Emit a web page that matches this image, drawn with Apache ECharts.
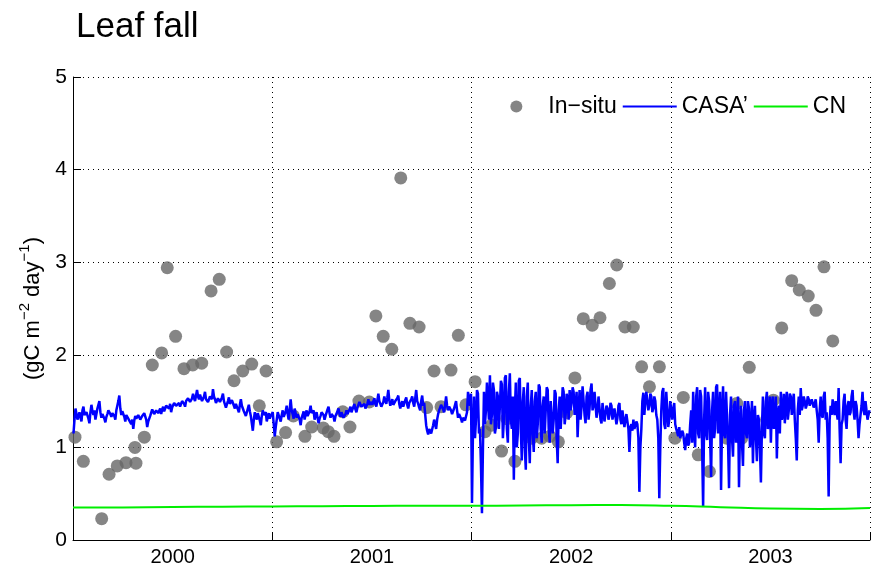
<!DOCTYPE html>
<html>
<head>
<meta charset="utf-8">
<title>Leaf fall</title>
<script src="https://cdn.jsdelivr.net/npm/echarts@6/dist/echarts.min.js"></script>
<style>
  html, body { margin: 0; padding: 0; background: #fff; }
  #chart { width: 874px; height: 570px; }
</style>
</head>
<body>
<div id="chart"></div>
<script>
// Year categories on the x axis
const years = ['2000', '2001', '2002', '2003'];
const yTicks = [0, 1, 2, 3, 4, 5];

// In-situ litterfall samples: time in years since 2000-01-01, value in gC m-2 day-1
const insituTime = [
  0.010, 0.052, 0.144, 0.181, 0.222, 0.266, 0.311, 0.316, 0.358, 0.398,
  0.445, 0.473, 0.515, 0.557, 0.601, 0.646, 0.693, 0.734, 0.771, 0.808,
  0.852, 0.897, 0.935, 0.969, 1.022, 1.067, 1.106, 1.164, 1.198, 1.256,
  1.281, 1.310, 1.354, 1.390, 1.435, 1.487, 1.520, 1.557, 1.600, 1.645,
  1.691, 1.737, 1.775, 1.812, 1.847, 1.897, 1.934, 1.972, 2.018, 2.068,
  2.101, 2.151, 2.177, 2.218, 2.302, 2.352, 2.394, 2.436, 2.478, 2.519,
  2.561, 2.606, 2.645, 2.692, 2.729, 2.770, 2.812, 2.854, 2.893, 2.943,
  3.021, 3.063, 3.138, 3.194, 3.281, 3.331, 3.356, 3.394, 3.481, 3.515,
  3.557, 3.607, 3.645, 3.690, 3.729, 3.769, 3.813
];
const insituValue = [
  1.11, 0.85, 0.23, 0.71, 0.80, 0.835, 1.00, 0.83, 1.11, 1.89,
  2.02, 2.94, 2.20, 1.85, 1.89, 1.91, 2.69, 2.815, 2.03, 1.72,
  1.825, 1.90, 1.45, 1.825, 1.06, 1.16, 1.34, 1.12, 1.22, 1.21,
  1.17, 1.12, 1.385, 1.22, 1.50, 1.49, 2.42, 2.20, 2.06, 3.91,
  2.34, 2.30, 1.43, 1.825, 1.44, 1.835, 2.21, 1.46, 1.71, 1.17,
  1.24, 0.96, 1.31, 0.85, 1.10, 1.10, 1.12, 1.06, 1.375, 1.75,
  2.39, 2.32, 2.40, 2.77, 2.97, 2.30, 2.30, 1.87, 1.655, 1.87,
  1.10, 1.54, 0.92, 0.74, 1.10, 1.475, 1.10, 1.865, 1.30, 1.51,
  2.29, 2.80, 2.70, 2.635, 2.48, 2.95, 2.15
];

// CASA' modelled leaf fall, 200 samples per year
const casa2000 = [
  1.15,1.30, 1.42,1.36, 1.30,1.34, 1.38,1.32, 1.28,1.40, 1.44,1.35, 1.33,1.38, 1.40,1.31, 1.26,1.38, 1.46,1.39,
  1.35,1.40, 1.30,1.36, 1.42,1.46, 1.50,1.38, 1.32,1.36, 1.38,1.31, 1.27,1.33, 1.36,1.40, 1.41,1.36, 1.33,1.37,
  1.38,1.34, 1.30,1.40, 1.45,1.50, 1.56,1.42, 1.35,1.39, 1.40,1.33, 1.28,1.35, 1.37,1.31, 1.33,1.29, 1.25,1.30,
  1.20,1.29, 1.34,1.31, 1.30,1.35, 1.36,1.30, 1.28,1.34, 1.32,1.37, 1.38,1.30, 1.22,1.28, 1.30,1.34, 1.36,1.41,
  1.40,1.36, 1.35,1.40, 1.42,1.37, 1.38,1.42, 1.36,1.41, 1.44,1.39, 1.40,1.45, 1.47,1.43, 1.42,1.47, 1.38,1.43,
  1.45,1.48, 1.50,1.45, 1.43,1.47, 1.48,1.44, 1.46,1.50, 1.52,1.47, 1.44,1.50, 1.49,1.53, 1.54,1.49, 1.47,1.53,
  1.58,1.53, 1.50,1.56, 1.62,1.55, 1.52,1.57, 1.56,1.50, 1.48,1.55, 1.60,1.52, 1.54,1.49, 1.50,1.55, 1.57,1.52,
  1.63,1.55, 1.52,1.48, 1.46,1.53, 1.55,1.49, 1.50,1.54, 1.58,1.50, 1.48,1.43, 1.44,1.50, 1.54,1.47, 1.46,1.51,
  1.50,1.45, 1.42,1.47, 1.48,1.41, 1.38,1.46, 1.52,1.45, 1.44,1.39, 1.40,1.34, 1.36,1.42, 1.46,1.39, 1.34,1.26,
  1.18,1.30, 1.38,1.33, 1.30,1.37, 1.36,1.29, 1.24,1.34, 1.40,1.35, 1.33,1.38, 1.28,1.33, 1.37,1.31, 1.34,1.36
];
const casa2001 = [
  1.38,1.25, 1.12,1.22, 1.30,1.38, 1.36,1.31, 1.28,1.35, 1.40,1.33, 1.34,1.39, 1.45,1.36, 1.30,1.41, 1.52,1.40,
  1.36,1.31, 1.42,1.37, 1.32,1.36, 1.38,1.30, 1.24,1.32, 1.35,1.39, 1.30,1.36, 1.40,1.34, 1.33,1.39, 1.45,1.37,
  1.36,1.40, 1.30,1.35, 1.38,1.32, 1.26,1.31, 1.34,1.38, 1.40,1.35, 1.30,1.34, 1.36,1.41, 1.44,1.37, 1.32,1.36,
  1.38,1.33, 1.28,1.34, 1.35,1.39, 1.42,1.36, 1.33,1.38, 1.37,1.32, 1.30,1.36, 1.40,1.36, 1.35,1.41, 1.44,1.38,
  1.40,1.44, 1.47,1.41, 1.38,1.43, 1.44,1.49, 1.50,1.44, 1.42,1.46, 1.47,1.42, 1.40,1.47, 1.52,1.46, 1.44,1.49,
  1.46,1.50, 1.53,1.47, 1.44,1.51, 1.58,1.50, 1.48,1.44, 1.42,1.49, 1.55,1.50, 1.47,1.54, 1.62,1.51, 1.45,1.49,
  1.52,1.46, 1.44,1.50, 1.48,1.53, 1.56,1.47, 1.42,1.47, 1.50,1.44, 1.46,1.51, 1.54,1.46, 1.42,1.48, 1.47,1.52,
  1.55,1.48, 1.44,1.53, 1.62,1.50, 1.47,1.43, 1.40,1.50, 1.56,1.45, 1.48,1.36, 1.24,1.18, 1.14,1.20, 1.22,1.15,
  1.16,1.24, 1.30,1.25, 1.20,1.30, 1.36,1.40, 1.42,1.46, 1.48,1.41, 1.38,1.46, 1.55,1.45, 1.40,1.44, 1.46,1.40,
  1.36,1.39, 1.42,1.46, 1.50,1.40, 1.32,1.36, 1.38,1.31, 1.27,1.32, 1.34,1.29, 1.30,1.38, 1.60,1.50, 1.45,1.58
];
const casa2002 = [
  0.40,1.20, 1.55,1.10, 1.30,1.62, 1.58,1.15, 1.20,0.80, 0.29,1.00, 1.60,1.25, 1.40,1.70, 1.72,1.30, 1.78,1.25,
  1.35,1.70, 1.62,1.15, 1.22,1.60, 1.55,1.20, 1.45,1.72, 1.68,1.10, 1.30,1.75, 1.78,1.20, 1.05,1.60, 1.80,1.30,
  1.20,1.55, 0.65,1.40, 1.70,1.00, 1.15,1.72, 1.75,1.20, 0.86,1.50, 1.65,1.00, 0.76,1.55, 1.70,1.10, 0.83,1.45,
  1.62,1.15, 0.95,1.50, 1.60,1.10, 1.25,1.68, 1.65,1.20, 1.05,1.45, 1.55,1.15, 1.40,1.65, 1.62,1.20, 1.05,1.50,
  1.50,1.15, 1.30,1.62, 1.58,1.10, 0.83,1.40, 1.55,1.20, 1.40,1.65, 1.60,1.25, 1.35,1.58, 1.52,1.30, 1.62,1.40,
  1.48,1.65, 1.60,1.35, 1.45,1.60, 1.11,1.40, 1.62,1.30, 1.45,1.66, 1.68,1.35, 1.26,1.55, 1.60,1.30, 1.42,1.62,
  1.69,1.40, 1.45,1.60, 1.58,1.32, 1.40,1.55, 1.55,1.30, 1.26,1.48, 1.50,1.28, 1.30,1.45, 1.42,1.30, 1.35,1.48,
  1.45,1.30, 1.28,1.42, 1.40,1.25, 1.32,1.45, 1.48,1.30, 1.25,1.40, 1.38,1.22, 1.30,1.36, 1.34,1.20, 0.95,1.22,
  1.25,1.18, 1.30,1.20, 1.22,1.28, 1.25,1.10, 0.52,1.00, 1.20,1.50, 1.59,1.35, 1.50,1.60, 1.58,1.40, 1.45,1.58,
  1.55,1.38, 1.42,1.55, 1.50,1.35, 1.30,1.10, 0.45,1.00, 1.40,1.60, 1.64,1.25, 1.20,1.60, 1.58,1.22, 1.30,1.50
];
const casa2003 = [
  1.50,1.30, 1.42,1.48, 1.25,1.20, 1.18,1.12, 1.22,1.10, 1.12,1.18, 1.15,1.05, 0.97,1.10, 1.15,1.02, 1.05,1.25,
  1.40,1.05, 1.60,1.20, 1.00,1.55, 1.65,1.15, 1.10,1.62, 1.55,1.00, 0.36,1.30, 1.65,1.15, 1.08,1.60, 1.50,1.10,
  0.68,1.40, 1.60,1.10, 1.20,1.65, 1.68,1.15, 1.30,1.60, 0.54,1.30, 1.66,1.15, 1.10,1.60, 1.62,1.05, 0.56,1.35,
  1.55,1.10, 0.90,1.45, 1.50,1.05, 1.20,1.55, 0.57,1.20, 1.45,1.05, 0.80,1.40, 1.50,1.15, 1.10,1.50, 1.42,1.00,
  1.20,1.50, 0.83,1.30, 1.45,1.10, 0.85,1.35, 1.30,1.00, 0.62,1.20, 1.55,1.15, 1.10,1.50, 1.60,1.20, 1.25,1.55,
  1.05,1.45, 1.55,1.20, 1.30,1.55, 0.88,1.35, 1.45,1.15, 1.60,1.30, 1.35,1.58, 1.26,1.50, 1.60,1.30, 1.40,1.58,
  1.55,1.35, 1.48,1.58, 1.30,1.10, 0.86,1.40, 1.55,1.35, 1.64,1.40, 1.45,1.55, 1.50,1.42, 1.46,1.55, 1.52,1.45,
  1.44,1.52, 1.50,1.43, 1.47,1.52, 1.40,1.30, 1.05,1.40, 1.55,1.35, 1.32,1.55, 1.60,1.30, 1.38,1.10, 0.47,1.30,
  1.45,1.35, 1.52,1.40, 1.35,1.50, 1.50,1.30, 1.64,1.20, 0.83,1.25, 1.30,1.50, 1.58,1.30, 1.20,1.45, 1.50,1.35,
  1.38,1.55, 1.62,1.40, 1.30,1.50, 1.45,1.30, 1.10,1.25, 1.25,1.45, 1.60,1.40, 1.35,1.50, 1.48,1.30, 1.32,1.40
];

// CN modelled leaf fall, quarterly from 2000.0 to 2004.0
const cnTime = [0, 0.25, 0.5, 0.75, 1, 1.25, 1.5, 1.75, 2, 2.25, 2.5, 2.75, 3, 3.25, 3.5, 3.75, 4];
const cnValue = [0.350, 0.352, 0.356, 0.360, 0.362, 0.365, 0.368, 0.370, 0.370, 0.372, 0.376, 0.378, 0.370, 0.355, 0.340, 0.335, 0.345];

const FONT = '"Liberation Sans", Arial, Helvetica, sans-serif';

const casaYears = [casa2000, casa2001, casa2002, casa2003];
const casaData = [];
casaYears.forEach((arr, y) => {
  arr.forEach((v, i) => casaData.push([y + (i + 0.5) / arr.length, v]));
});
const insituData = insituTime.map((t, i) => [t, insituValue[i]]);
const cnData = cnTime.map((t, i) => [t, cnValue[i]]);

const dotted = { color: '#000', width: 1, type: [1, 4] };
const lineIcon = 'path://M0,0 L54,0 L54,2 L0,2 Z';

const chart = echarts.init(document.getElementById('chart'), null, { renderer: 'canvas' });
chart.setOption({
  animation: false,
  backgroundColor: '#fff',
  title: {
    text: 'Leaf fall',
    left: 76,
    top: 10,
    padding: 0,
    textStyle: { fontFamily: FONT, fontSize: 35, fontWeight: 'normal', color: '#000' }
  },
  legend: {
    right: 23,
    top: 90,
    itemWidth: 54,
    itemHeight: 12,
    itemGap: 6,
    symbolKeepAspect: true,
    textStyle: { fontFamily: FONT, fontSize: 23, color: '#000' },
    data: [
      { name: 'In−situ', icon: 'circle' },
      { name: 'CASA’', icon: lineIcon },
      { name: 'CN', icon: lineIcon }
    ]
  },
  grid: { left: 73, right: 4, top: 77, bottom: 30, containLabel: false },
  xAxis: [
    {
      type: 'category',
      data: years,
      boundaryGap: true,
      axisLine: { show: true, lineStyle: { color: '#000', width: 1 } },
      axisTick: { show: true, inside: true, length: 8, lineStyle: { color: '#000' } },
      axisLabel: { fontFamily: FONT, fontSize: 20, color: '#000', margin: 7 },
      splitLine: { show: true, lineStyle: dotted }
    },
    {
      type: 'value',
      min: 0,
      max: 4,
      show: false
    }
  ],
  yAxis: {
    type: 'value',
    min: yTicks[0],
    max: yTicks[yTicks.length - 1],
    interval: 1,
    name: '{a|(gC m}{s|−2}{a| day}{s|−1}{a|)}',
    nameLocation: 'middle',
    nameGap: 24,
    nameTextStyle: {
      rich: {
        a: { fontFamily: FONT, fontSize: 22, color: '#000', lineHeight: 27, verticalAlign: 'bottom' },
        s: { fontFamily: FONT, fontSize: 15, color: '#000', lineHeight: 27, verticalAlign: 'top' }
      }
    },
    axisLine: { show: true, lineStyle: { color: '#000', width: 1 } },
    axisTick: { show: true, inside: true, length: 8, lineStyle: { color: '#000' } },
    axisLabel: { fontFamily: FONT, fontSize: 21, color: '#000', margin: 6 },
    splitLine: { show: true, lineStyle: dotted }
  },
  series: [
    {
      name: 'In−situ',
      type: 'scatter',
      xAxisIndex: 1,
      data: insituData,
      symbol: 'circle',
      symbolSize: 13,
      itemStyle: { color: '#666666' },
      z: 2
    },
    {
      name: 'CASA’',
      type: 'line',
      xAxisIndex: 1,
      data: casaData,
      showSymbol: false,
      lineStyle: { color: '#0000ff', width: 2.5 },
      itemStyle: { color: '#0000ff' },
      z: 3
    },
    {
      name: 'CN',
      type: 'line',
      xAxisIndex: 1,
      data: cnData,
      smooth: true,
      showSymbol: false,
      lineStyle: { color: '#00ee00', width: 2 },
      itemStyle: { color: '#00ee00' },
      z: 4
    }
  ]
});
</script>
</body>
</html>
